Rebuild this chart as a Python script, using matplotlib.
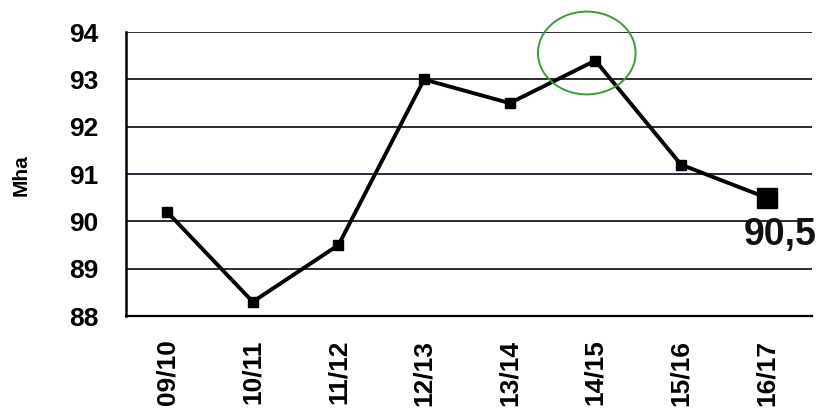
import matplotlib
matplotlib.use("Agg")
import matplotlib.pyplot as plt
from matplotlib.patches import Ellipse

seasons = ["09/10", "10/11", "11/12", "12/13", "13/14", "14/15", "15/16", "16/17"]
area = [90.2, 88.3, 89.5, 93.0, 92.5, 93.4, 91.2, 90.5]
last_label = "90,5"

plt.rcParams["font.family"] = ["Liberation Sans", "DejaVu Sans"]

fig = plt.figure(figsize=(8.21, 4.18), dpi=100)
ax = fig.add_axes([0.1535, 0.244, 0.8356, 0.679])

x = list(range(len(seasons)))
ax.plot(x, area, color="black", linewidth=2.8, marker="s", markersize=6.5, zorder=3)
ax.plot(x[-1], area[-1], marker="s", markersize=15, color="black", zorder=4)
ax.text(x[-1] - 0.27, area[-1] - 0.4, last_label, fontsize=27, fontweight="bold",
        ha="left", va="top", color="#111111")

# green circle round the peak
ax.add_patch(Ellipse((4.9, 93.56), 1.14, 1.75, fill=False, edgecolor="#3c9a3c",
                     linewidth=1.4, zorder=5, clip_on=False))

ax.set_xlim(-0.48, 7.53)
ax.set_ylim(88, 94)
ax.set_yticks(range(88, 95))
ax.set_xticks(x)
ax.set_xticklabels(seasons, rotation=90)
ax.grid(axis="y", color="#1c1a2a", linewidth=1.3)
ax.set_axisbelow(True)
for s in ["top", "right"]:
    ax.spines[s].set_visible(False)
ax.spines["left"].set_linewidth(1.8)
ax.spines["bottom"].set_linewidth(1.6)
ax.tick_params(length=0)
ax.tick_params(axis="y", pad=20, labelsize=19)
ax.tick_params(axis="x", pad=17, labelsize=19)
for lab in ax.get_xticklabels() + ax.get_yticklabels():
    lab.set_fontweight("bold")

fig.text(0.026, 0.58, "Mha", rotation=90, fontsize=15, fontweight="bold",
         ha="center", va="center")

fig.savefig("out.png", dpi=100)
